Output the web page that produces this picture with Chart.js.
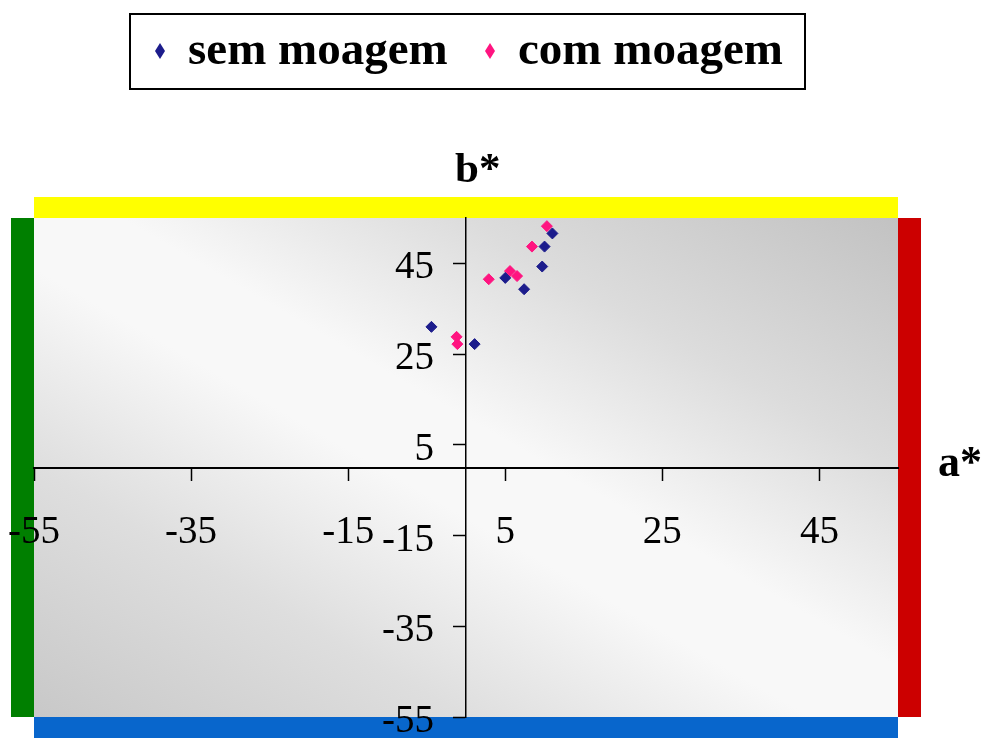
<!DOCTYPE html>
<html>
<head>
<meta charset="utf-8">
<title>a* b*</title>
<script src="https://cdn.jsdelivr.net/npm/chart.js@4.4.1/dist/chart.umd.min.js"></script>
<style>
  html, body { margin: 0; padding: 0; background: #fff; }
  #wrap { width: 984px; height: 738px; }
</style>
</head>
<body>
<div id="wrap"><canvas id="cielab"></canvas></div>
<script>
'use strict';

// CIELab a*/b* readings, one pair per sample
const semMoagemA = [11.0, 10.0, 9.7, 5.0, 7.4, -4.4, 1.1];
const semMoagemB = [51.6, 48.7, 44.3, 41.8, 39.3, 31.0, 27.2];
const comMoagemA = [10.3, 8.4, 2.9, 5.6, 6.5, -1.2, -1.1];
const comMoagemB = [53.2, 48.7, 41.5, 43.3, 42.2, 28.8, 27.2];

const seriesNames = ['sem moagem', 'com moagem'];
const seriesColors = ['#1c1c8c', '#ff1480'];
const axisTicks = [-55, -35, -15, 5, 25, 45];
const axisMin = -55;
const axisMax = 55;
const axisTitleX = 'a*';
const axisTitleY = 'b*';

const toPoints = (xs, ys) => xs.map((x, i) => ({ x, y: ys[i] }));

const SERIF = '"Liberation Serif", "Times New Roman", serif';

function text(ctx, str, x, y, font, align) {
  ctx.save();
  ctx.font = font;
  ctx.fillStyle = '#000';
  ctx.textAlign = align || 'left';
  ctx.textBaseline = 'alphabetic';
  ctx.fillText(str, x, y);
  ctx.restore();
}

function diamond(ctx, cx, cy, hw, hh, color) {
  ctx.beginPath();
  ctx.moveTo(cx, cy - hh);
  ctx.lineTo(cx + hw, cy);
  ctx.lineTo(cx, cy + hh);
  ctx.lineTo(cx - hw, cy);
  ctx.closePath();
  ctx.fillStyle = color;
  ctx.fill();
}

// ---------------------------------------------------------------------------
// Plot background: grey shading in the top-right / bottom-left corners,
// plus the four colour bands round the plot
// ---------------------------------------------------------------------------
const backdrop = {
  id: 'backdrop',
  beforeDraw(chart) {
    const { ctx, chartArea: a } = chart;
    ctx.save();
    ctx.fillStyle = '#fff';
    ctx.fillRect(0, 0, chart.width, chart.height);

    // shading bands run parallel to the top-left -> bottom-right diagonal
    const w = a.right - a.left, h = a.bottom - a.top;
    const cx = (a.left + a.right) / 2, cy = (a.top + a.bottom) / 2;
    const len = Math.hypot(w, h);
    const ux = h / len, uy = -w / len;
    const half = (w / 2) * Math.abs(ux) + (h / 2) * Math.abs(uy);
    const g = ctx.createLinearGradient(cx + ux * half, cy + uy * half, cx - ux * half, cy - uy * half);
    g.addColorStop(0, '#c2c2c2');
    g.addColorStop(0.25, '#dcdcdc');
    g.addColorStop(0.45, '#f8f8f8');
    g.addColorStop(0.55, '#f8f8f8');
    g.addColorStop(0.75, '#dedede');
    g.addColorStop(1, '#c8c8c8');
    ctx.fillStyle = g;
    ctx.fillRect(a.left, a.top, w, h);

    ctx.fillStyle = '#ffff00';
    ctx.fillRect(a.left, a.top - 21, w, 21);
    ctx.fillStyle = '#007f00';
    ctx.fillRect(a.left - 23, a.top, 23, h);
    ctx.fillStyle = '#cc0000';
    ctx.fillRect(a.right, a.top, 23, h);
    ctx.fillStyle = '#0866cc';
    ctx.fillRect(a.left, a.bottom, w, chart.height - a.bottom);
    ctx.restore();
  }
};

// ---------------------------------------------------------------------------
// Text overlay: tick labels beside the crossing axes, axis names, legend
// ---------------------------------------------------------------------------
const overlay = {
  id: 'overlay',
  afterDraw(chart) {
    const { ctx, chartArea: a } = chart;
    const xs = chart.scales.x, ys = chart.scales.y;
    const axisX = xs.getPixelForValue(0);
    const axisY = ys.getPixelForValue(0);
    const tickFont = '39px ' + SERIF;

    for (const t of xs.ticks) {
      text(ctx, String(t.value), xs.getPixelForValue(t.value), axisY + 75, tickFont, 'center');
    }
    for (const t of ys.ticks) {
      text(ctx, String(t.value), axisX - 32, ys.getPixelForValue(t.value) + 15, tickFont, 'right');
    }

    text(ctx, axisTitleY, axisX - 11, a.top - 36, 'bold 43px ' + SERIF);
    text(ctx, axisTitleX, a.right + 40, axisY + 8, 'bold 44px ' + SERIF);

    // legend box
    ctx.save();
    ctx.lineWidth = 2;
    ctx.strokeStyle = '#000';
    ctx.strokeRect(130, 14, 675, 75);
    ctx.restore();

    const itemX = [160, 490];
    chart.data.datasets.forEach((ds, i) => {
      diamond(ctx, itemX[i], 51, 5, 8, ds.backgroundColor);
      text(ctx, ds.label, itemX[i] + 28, 64, 'bold 47px ' + SERIF);
    });
  }
};

function axisOptions(position, lineWidth) {
  return {
    type: 'linear',
    min: axisMin,
    max: axisMax,
    position,
    afterBuildTicks: scale => { scale.ticks = axisTicks.map(value => ({ value })); },
    grid: {
      drawOnChartArea: false,
      drawTicks: true,
      tickLength: 12,
      tickWidth: 1.5,
      tickColor: '#000'
    },
    border: { display: true, color: '#000', width: lineWidth },
    ticks: { display: false }
  };
}

new Chart(document.getElementById('cielab'), {
  type: 'scatter',
  data: {
    datasets: [
      {
        label: seriesNames[0],
        data: toPoints(semMoagemA, semMoagemB),
        backgroundColor: seriesColors[0],
        borderColor: seriesColors[0],
        pointStyle: 'rectRot',
        pointRadius: 5.5,
        borderWidth: 1
      },
      {
        label: seriesNames[1],
        data: toPoints(comMoagemA, comMoagemB),
        backgroundColor: seriesColors[1],
        borderColor: seriesColors[1],
        pointStyle: 'rectRot',
        pointRadius: 5.5,
        borderWidth: 1
      }
    ]
  },
  options: {
    responsive: true,
    maintainAspectRatio: false,
    animation: false,
    layout: { padding: { left: 34, right: 86, top: 218, bottom: 21 } },
    plugins: {
      legend: { display: false },
      title: { display: false },
      tooltip: { enabled: false }
    },
    scales: {
      x: axisOptions({ y: 0 }, 2),
      y: axisOptions({ x: 0 }, 1.5)
    }
  },
  plugins: [backdrop, overlay]
});
</script>
</body>
</html>
